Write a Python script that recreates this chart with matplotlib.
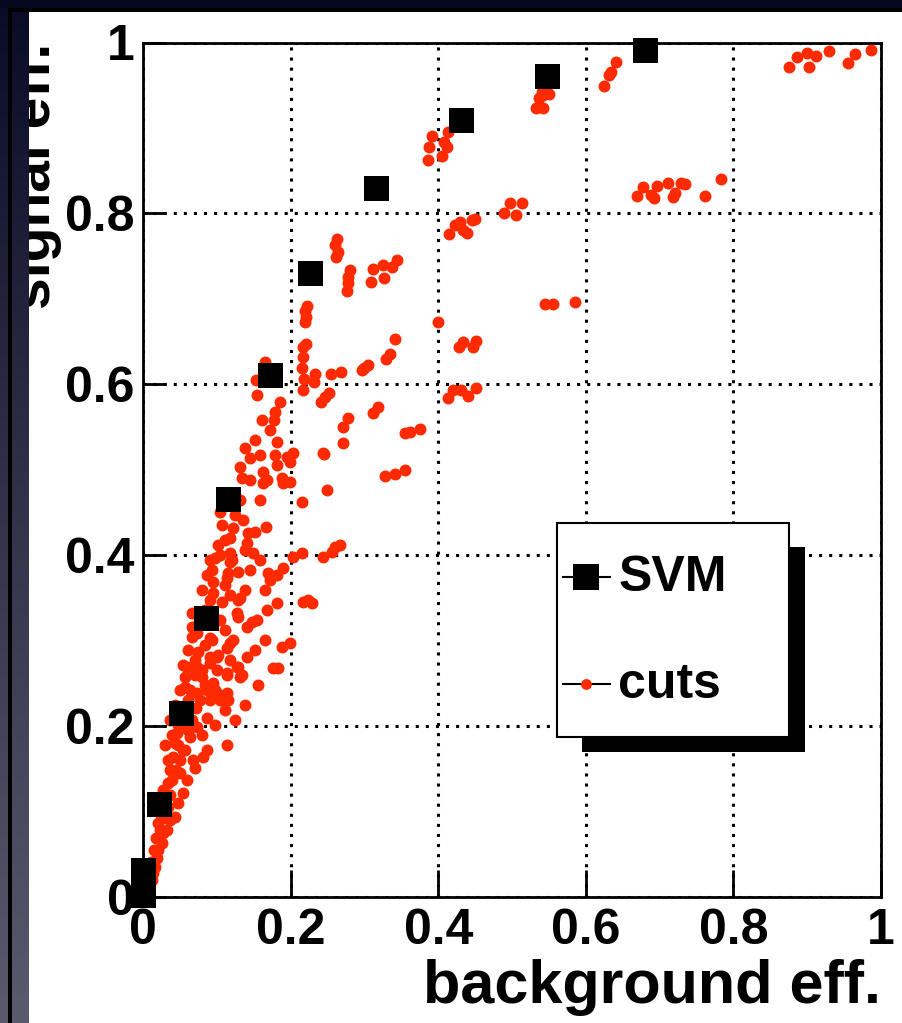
import numpy as np
import matplotlib
matplotlib.use("Agg")
import matplotlib.pyplot as plt
from matplotlib.patches import Rectangle
from matplotlib.lines import Line2D

# ---- data -------------------------------------------------------------
tick_values = [0.0, 0.2, 0.4, 0.6, 0.8, 1.0]
tick_labels = ["0", "0.2", "0.4", "0.6", "0.8", "1"]

svm_bkg = [0.000, 0.000, 0.022, 0.0515, 0.085, 0.115, 0.172, 0.226, 0.316, 0.431, 0.547, 0.680]
svm_sig = [0.002, 0.032, 0.109, 0.215, 0.326, 0.466, 0.611, 0.730, 0.830, 0.909, 0.961, 0.991]

cuts_bkg = [
    0.875, 0.886, 0.900, 0.902, 0.912, 0.930, 0.955, 0.965, 0.986,
    0.669, 0.678, 0.688, 0.692, 0.697, 0.711, 0.718, 0.721, 0.729, 0.735, 0.761, 0.783,
    0.625, 0.632, 0.634, 0.641,
    0.533, 0.542, 0.537, 0.542, 0.550, 0.541,
    0.545, 0.556, 0.585,
    0.386, 0.388, 0.392, 0.405, 0.408, 0.412, 0.413,
    0.489, 0.497, 0.505, 0.514,
    0.415, 0.423, 0.429, 0.439, 0.446, 0.434, 0.450,
    0.263, 0.260, 0.264, 0.262, 0.280, 0.278, 0.278, 0.276,
    0.312, 0.309, 0.325, 0.327, 0.337, 0.344,
    0.222, 0.220, 0.221, 0.220, 0.400,
    0.221, 0.217, 0.217, 0.215, 0.218, 0.217, 0.233, 0.232, 0.255, 0.268,
    0.297, 0.300, 0.305, 0.329, 0.335, 0.341,
    0.428, 0.434, 0.447, 0.451, 0.413, 0.420, 0.431, 0.440, 0.451,
    0.154, 0.153, 0.165, 0.241, 0.247, 0.252,
    0.178, 0.179, 0.186, 0.271, 0.278, 0.312, 0.318,
    0.355, 0.362, 0.375, 0.181, 0.271, 0.328, 0.341, 0.355,
    0.179, 0.182, 0.195, 0.203, 0.199, 0.188, 0.199, 0.244, 0.245, 0.138, 0.145,
    0.131, 0.134, 0.163, 0.168, 0.163, 0.190, 0.249, 0.215, 0.159, 0.104,
    0.136, 0.122, 0.118, 0.118, 0.118, 0.115, 0.114, 0.142, 0.141, 0.138, 0.152, 0.167, 0.149,
    0.098, 0.093, 0.095, 0.095, 0.107, 0.129, 0.118, 0.129, 0.131,
    0.203, 0.215, 0.190, 0.182, 0.169, 0.172, 0.244, 0.256, 0.267, 0.260,
    0.217, 0.224, 0.229, 0.182, 0.168, 0.154, 0.141, 0.148, 0.127, 0.129,
    0.093, 0.066, 0.075, 0.091, 0.102, 0.118, 0.114, 0.122, 0.141, 0.127, 0.134, 0.114,
    0.100, 0.080, 0.060, 0.057, 0.188, 0.199, 0.176, 0.183, 0.066, 0.066, 0.073, 0.091,
    0.057, 0.073, 0.080, 0.091, 0.100, 0.118, 0.114, 0.131, 0.129,
    0.156, 0.095, 0.100, 0.087, 0.073, 0.061, 0.114, 0.115, 0.104,
    0.087, 0.073, 0.080, 0.064, 0.046, 0.114, 0.087, 0.081, 0.068, 0.054, 0.043, 0.041,
    0.070, 0.060, 0.050, 0.037, 0.034, 0.054, 0.047, 0.034, 0.027, 0.043, 0.037,
    0.027, 0.026, 0.020, 0.019, 0.016, 0.014, 0.012, 0.033, 0.020, 0.023,
    0.037, 0.043, 0.050, 0.030, 0.039, 0.034, 0.057, 0.047, 0.030, 0.023,
    0.007, 0.009, 0.011, 0.015, 0.018, 0.023, 0.027, 0.031, 0.037, 0.039,
    0.045, 0.050, 0.047, 0.057, 0.061, 0.066, 0.053, 0.072, 0.077, 0.064,
    0.084, 0.070, 0.091, 0.098, 0.054, 0.061, 0.070, 0.084, 0.077, 0.084,
    0.091, 0.080, 0.087, 0.091, 0.104, 0.102, 0.111, 0.107, 0.125, 0.131,
    0.121, 0.111, 0.104, 0.111, 0.138, 0.145, 0.159, 0.165, 0.152, 0.165,
    0.138, 0.125, 0.098, 0.111, 0.159, 0.145, 0.152, 0.161, 0.172,
]
cuts_sig = [
    0.971, 0.983, 0.988, 0.971, 0.984, 0.990, 0.976, 0.987, 0.991,
    0.820, 0.831, 0.822, 0.818, 0.832, 0.836, 0.819, 0.824, 0.836, 0.834, 0.820, 0.840,
    0.949, 0.962, 0.966, 0.977,
    0.923, 0.923, 0.935, 0.939, 0.940, 0.942,
    0.694, 0.694, 0.696,
    0.862, 0.878, 0.891, 0.867, 0.884, 0.878, 0.895,
    0.800, 0.812, 0.798, 0.812,
    0.776, 0.786, 0.790, 0.777, 0.792, 0.781, 0.793,
    0.770, 0.763, 0.755, 0.749, 0.734, 0.726, 0.719, 0.709,
    0.735, 0.720, 0.740, 0.724, 0.737, 0.745,
    0.692, 0.686, 0.679, 0.673, 0.673,
    0.647, 0.644, 0.632, 0.619, 0.606, 0.593, 0.612, 0.603, 0.612, 0.614,
    0.617, 0.619, 0.623, 0.630, 0.636, 0.653,
    0.644, 0.649, 0.644, 0.651, 0.584, 0.593, 0.593, 0.586, 0.596,
    0.587, 0.605, 0.626, 0.579, 0.585, 0.590,
    0.558, 0.567, 0.579, 0.550, 0.560, 0.566, 0.573,
    0.543, 0.544, 0.548, 0.532, 0.531, 0.493, 0.495, 0.500,
    0.517, 0.506, 0.515, 0.520, 0.509, 0.490, 0.486, 0.520, 0.518, 0.525, 0.514,
    0.503, 0.490, 0.497, 0.488, 0.484, 0.484, 0.476, 0.462, 0.465, 0.451,
    0.441, 0.432, 0.420, 0.403, 0.392, 0.379, 0.373, 0.426, 0.414, 0.406, 0.427, 0.433, 0.403,
    0.397, 0.383, 0.369, 0.356, 0.345, 0.380, 0.353, 0.348, 0.350,
    0.398, 0.403, 0.385, 0.377, 0.379, 0.371, 0.398, 0.404, 0.412, 0.410,
    0.345, 0.348, 0.344, 0.344, 0.336, 0.324, 0.316, 0.322, 0.332, 0.328,
    0.301, 0.304, 0.287, 0.281, 0.283, 0.297, 0.291, 0.301, 0.281, 0.269, 0.260, 0.262,
    0.266, 0.266, 0.269, 0.257, 0.293, 0.297, 0.268, 0.268, 0.332, 0.316, 0.309, 0.303,
    0.246, 0.269, 0.257, 0.274, 0.281, 0.277, 0.260, 0.257, 0.269,
    0.248, 0.250, 0.239, 0.242, 0.239, 0.230, 0.239, 0.230, 0.230,
    0.209, 0.199, 0.190, 0.187, 0.192, 0.178, 0.172, 0.164, 0.160, 0.172, 0.180, 0.164,
    0.151, 0.137, 0.145, 0.149, 0.133, 0.122, 0.110, 0.105, 0.125, 0.094, 0.090,
    0.075, 0.063, 0.055, 0.046, 0.035, 0.028, 0.020, 0.078, 0.087, 0.098,
    0.207, 0.225, 0.242, 0.178, 0.190, 0.160, 0.213, 0.201, 0.119, 0.108,
    0.014, 0.026, 0.041, 0.055, 0.069, 0.078, 0.092, 0.108, 0.119, 0.137,
    0.149, 0.160, 0.178, 0.172, 0.195, 0.207, 0.213, 0.221, 0.230, 0.242,
    0.248, 0.260, 0.230, 0.242, 0.271, 0.289, 0.277, 0.295, 0.318, 0.336,
    0.348, 0.359, 0.377, 0.394, 0.400, 0.412, 0.418, 0.435, 0.447, 0.465,
    0.394, 0.365, 0.324, 0.312, 0.359, 0.383, 0.394, 0.359, 0.289, 0.301,
    0.225, 0.207, 0.201, 0.219, 0.517, 0.488, 0.535, 0.558, 0.547,
]

series_names = ["SVM", "cuts"]
cuts_color = "#ff2a00"

# ---- figure -----------------------------------------------------------
plt.rcParams["font.family"] = ["Liberation Sans", "DejaVu Sans"]
plt.rcParams["font.weight"] = "bold"
plt.rcParams["axes.labelweight"] = "bold"

W, H = 902, 1023
fig = plt.figure(figsize=(W / 100, H / 100), dpi=100, facecolor="white")
ax = fig.add_axes([143 / W, 1 - 897 / H, 738 / W, 854.5 / H])

ax.set_xlim(0, 1)
ax.set_ylim(0, 1)
for sp in ax.spines.values():
    sp.set_linewidth(2.0)

ax.grid(True, color="black", linestyle=(0, (1.0, 2.3)), linewidth=2.2)
ax.set_axisbelow(True)

ax.set_xticks(tick_values)
ax.set_xticklabels(tick_labels)
ax.set_yticks(tick_values)
ax.set_yticklabels(tick_labels)
ax.tick_params(axis="both", direction="in", width=2.0, labelsize=36)
ax.tick_params(axis="x", length=19.5, pad=8)
ax.tick_params(axis="y", length=16.5, pad=6)

ax.plot(cuts_bkg, cuts_sig, linestyle="none", marker="o", markersize=8.6,
        markerfacecolor=cuts_color, markeredgewidth=0, zorder=3)
ax.plot(svm_bkg, svm_sig, linestyle="none", marker="s", markersize=18,
        color="black", markeredgewidth=0, zorder=4, clip_on=False)

# axis titles
ax.set_xlabel("background eff.", fontsize=44, fontweight="bold")
ax.xaxis.set_label_coords(1.0, -0.124)
ax.xaxis.label.set_ha("right")
ax.xaxis.label.set_va("baseline")

ax.set_ylabel("signal eff.", fontsize=41, fontweight="bold")
ax.yaxis.label.set_rotation_mode("anchor")
ax.yaxis.label.set_ha("right")
ax.yaxis.label.set_va("baseline")
ax.yaxis.set_label_coords(-0.126, 1.0)

# legend box with drop shadow
T = ax.transAxes
ax.add_patch(Rectangle((0.595, 0.170), 0.302, 0.240, transform=T,
                       facecolor="black", edgecolor="none", zorder=5))
ax.add_patch(Rectangle((0.561, 0.187), 0.314, 0.251, transform=T,
                       facecolor="white", edgecolor="black", linewidth=1.5, zorder=6))
for yl, name, mk, ms, col in [(0.374, series_names[0], "s", 18.5, "black"),
                              (0.249, series_names[1], "o", 7.8, cuts_color)]:
    ax.add_line(Line2D([0.569, 0.633], [yl, yl], transform=T, color="black",
                       linewidth=1.5, zorder=7))
    ax.add_line(Line2D([0.600], [yl], transform=T, linestyle="none", marker=mk,
                       markersize=ms, color=col, markeredgewidth=0, zorder=8))
    ax.text(0.644, yl - 0.016, name, transform=T, fontsize=36, ha="left",
            va="baseline", zorder=8)

# window frame around the canvas
frame = fig.add_axes([0, 0, 1, 1], zorder=20)
frame.patch.set_alpha(0)
frame.axis("off")
top_col = np.array([10, 12, 38]) / 255
bot_col = np.array([90, 90, 110]) / 255
ramp = np.linspace(0, 1, 256)[:, None, None]
grad = top_col + (bot_col - top_col) * ramp
frame.imshow(grad, extent=(0, 29, H, 0), aspect="auto", interpolation="bilinear")
frame.add_patch(Rectangle((0, 0), W, 8, facecolor="#06081f", edgecolor="none"))
frame.add_patch(Rectangle((8, 8), W - 8, 4, facecolor="black", edgecolor="none"))
frame.add_patch(Rectangle((8, 8), 4, H - 8, facecolor="black", edgecolor="none"))
frame.set_xlim(0, W)
frame.set_ylim(H, 0)

fig.savefig("out.png", dpi=100, facecolor="white")
